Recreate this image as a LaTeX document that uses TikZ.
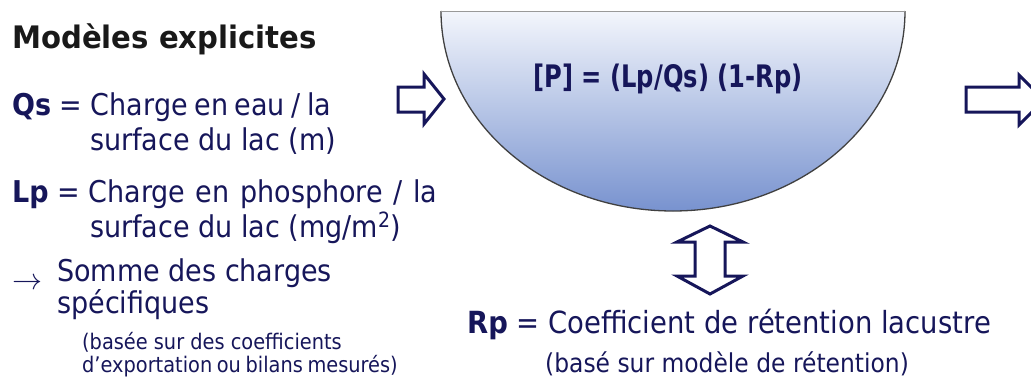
\documentclass[tikz,border=0pt]{standalone}
\usepackage{fontspec}
\setmainfont{DejaVu Sans}[FakeStretch=0.9]
\newfontfamily\widefont{DejaVu Sans}[FakeStretch=0.94]
\newfontfamily\formfont{DejaVu Sans}[FakeStretch=0.78]
\definecolor{navy}{HTML}{16165A}
\definecolor{laketop}{HTML}{F3F6FC}
\definecolor{lakebot}{HTML}{7892CF}
\tikzset{
  txt/.style={anchor=base west, inner sep=0pt, text=navy, font=\fontsize{30}{30}\selectfont},
  small/.style={anchor=base west, inner sep=0pt, text=navy, font=\fontsize{21.5}{21.5}\selectfont},
  blockarrow/.style={draw=navy, line width=3pt, fill=white, line join=miter},
}
\begin{document}
\begin{tikzpicture}[x=1pt, y=-1pt]
\useasboundingbox (0,0) rectangle (1031,386);
\clip (0,0) rectangle (1031,386);
% lake
\path[top color=laketop, bottom color=lakebot] (441,11) arc[start angle=180, end angle=360, x radius=232pt, y radius=200pt] -- cycle;
\draw[black!75, line width=1.3pt] (441,11) arc[start angle=180, end angle=360, x radius=232pt, y radius=200pt];
\draw[black!40, line width=1pt] (441,11) -- (905,11);
\node[anchor=base, inner sep=0pt, text=navy, font=\formfont\fontsize{31}{31}\selectfont\bfseries] (formula) at (668,87) {[P] = (Lp/Qs) (1-Rp)};
% arrows
\draw[blockarrow] (398,87) -- (424,87) -- (424,74) -- (444,99) -- (424,124) -- (424,112) -- (398,112) -- cycle;
\draw[blockarrow] (966,87) -- (1019,87) -- (1019,75) -- (1044,100) -- (1019,125) -- (1019,112) -- (966,112) -- cycle;
\draw[blockarrow] (710,226) -- (743,242) -- (725,242) -- (725,276) -- (743,276) -- (710,294) -- (677,276) -- (695,276) -- (695,242) -- (677,242) -- cycle;
% left texts
\node[anchor=base west, inner sep=0pt, text=black!90, font=\widefont\fontsize{31}{31}\selectfont\bfseries] (title) at (12,48) {Modèles explicites};
\node[txt] (qs) at (12,115) {\textbf{Qs} = Charge\hspace{-2pt} en\hspace{-2pt} eau\hspace{-2pt} /\hspace{-2pt} la};
\node[txt] (qs2) at (90,150) {surface du lac (m)};
\node[txt] (lp) at (12,202) {\textbf{Lp} = Charge\hspace{2pt} en\hspace{2pt} phosphore\hspace{2pt} /\hspace{2pt} la};
\node[txt] (lp2) at (90,237) {surface du lac (mg/m\textsuperscript{2})};
\node[anchor=base west, inner sep=0pt, text=navy] (arr) at (12,289) {\resizebox{30pt}{!}{$\rightarrow$}};
\node[anchor=base west, inner sep=0pt, text=navy, align=left, font=\fontsize{30}{26}\selectfont] (somme) at (57,313) {Somme des charges\\spécifiques};
\node[small] (basee) at (82,349) {(basée sur des coefficients};
\node[small] (dexp) at (82,372) {d’exportation\hspace{-1.5pt} ou\hspace{-1.5pt} bilans\hspace{-1.5pt} mesurés)};
% right bottom texts
\node[txt, font=\fontsize{30.5}{30.5}\selectfont] (rp) at (467,333) {\textbf{Rp} = Coefficient de rétention lacustre};
\node[anchor=base west, inner sep=0pt, text=navy, font=\fontsize{26}{26}\selectfont] (rp2) at (545,372) {(basé sur modèle de rétention)};
\end{tikzpicture}
\end{document}
